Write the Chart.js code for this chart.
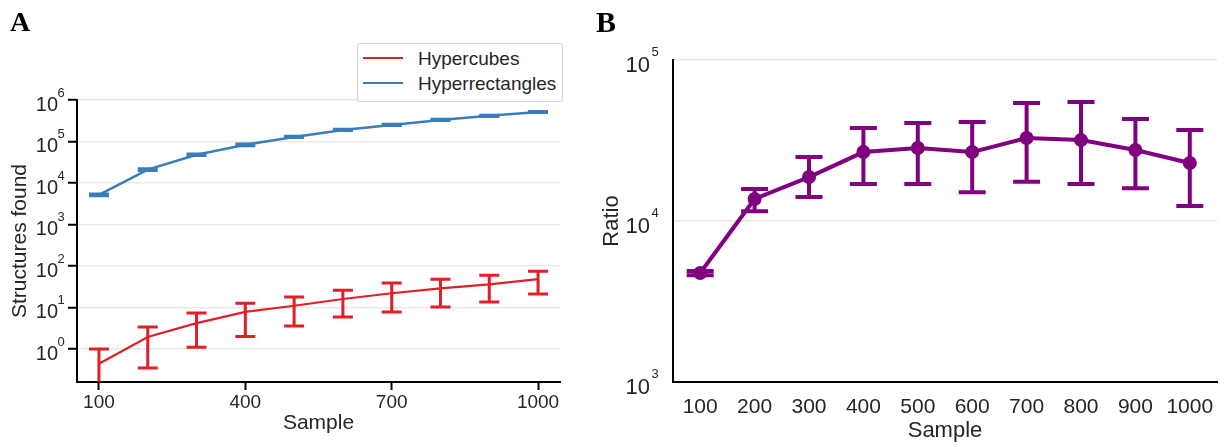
<!DOCTYPE html>
<html>
<head>
<meta charset="utf-8">
<title>Structures found and ratio by sample size</title>
<script src="https://cdn.jsdelivr.net/npm/chart.js@4.4.1/dist/chart.umd.min.js"></script>
<style>
  html, body { margin: 0; padding: 0; background: #fff; }
  #wrap { position: relative; width: 1224px; height: 447px; overflow: hidden; }
  canvas { position: absolute; top: 0; }
  #cA { left: 0; }
  #cB { left: 590px; }
  .panel { position: absolute; font-family: "Liberation Serif", "Times New Roman", serif;
           font-weight: bold; line-height: 1; color: #000; }
  #legA { position: absolute; left: 357px; top: 43px; width: 204px; height: 57px;
          border: 1px solid #d4d4d4; border-radius: 3px; background: #fff; }
  #legA .sw { position: absolute; left: 5px; width: 40px; height: 2.5px; }
  #legA .tx { position: absolute; left: 60px; height: 20px; line-height: 20px; font-size: 19px;
              font-family: "Liberation Sans", Arial, sans-serif; color: #262626; white-space: nowrap; }
</style>
</head>
<body>
<div id="wrap">
  <canvas id="cA" width="590" height="447"></canvas>
  <canvas id="cB" width="634" height="447"></canvas>
  <div class="panel" style="left:10px; top:8px; font-size:28px;">A</div>
  <div class="panel" style="left:596px; top:7px; font-size:30px;">B</div>
  <div id="legA"></div>
</div>
<script>
// ---- data -------------------------------------------------------------
const samples = [100, 200, 300, 400, 500, 600, 700, 800, 900, 1000];
const sampleLabels = ['100', '200', '300', '400', '500', '600', '700', '800', '900', '1000'];

// Panel A: structures found (mean with error range)
const cubesMean = [0.44, 1.95, 4.2, 7.8, 11, 16, 22, 29, 36, 48];
const cubesLow  = [0.1, 0.35, 1.1, 2.0, 3.6, 5.9, 7.8, 10.2, 13.5, 21];
const cubesHigh = [1.0, 3.4, 7.4, 12.7, 18, 26, 39, 48, 60, 75];

const rectMean = [5200, 21000, 48000, 83000, 129000, 190000, 251000, 331000, 415000, 515000];
const rectLow  = [4950, 20100, 46000, 79500, 124000, 183000, 242000, 320000, 402000, 499000];
const rectHigh = [5450, 21900, 50000, 86500, 134000, 197000, 260000, 342000, 428000, 531000];

// Panel B: ratio (mean with error range)
const ratioMean = [4750, 13700, 18750, 26800, 28400, 26800, 32800, 31800, 27600, 22900];
const ratioLow  = [4600, 11500, 14100, 17000, 17000, 15100, 17500, 17000, 16000, 12400];
const ratioHigh = [4900, 15800, 25000, 37800, 40600, 41200, 54100, 54800, 43000, 36700];

// Axis ticks
const ticksA_x = [100, 400, 700, 1000];
const ticksA_y = [1, 10, 100, 1000, 10000, 100000, 1000000];
const ticksB_y = [1000, 10000, 100000];

// ---- helpers ----------------------------------------------------------
const SANS = '"Liberation Sans", Arial, sans-serif';
const TEXT = '#262626';
const GRID = '#e9e9e9';

// Vertical error bars with caps, placed through the chart's own scales
const errorBars = {
  id: 'errorBars',
  afterDatasetsDraw(chart) {
    const { ctx, chartArea } = chart;
    const ys = chart.scales.y;
    ctx.save();
    ctx.beginPath();
    ctx.rect(chartArea.left, chartArea.top, chartArea.right - chartArea.left, chartArea.bottom - chartArea.top);
    ctx.clip();
    chart.data.datasets.forEach((ds, i) => {
      if (!ds.errLow) return;
      const meta = chart.getDatasetMeta(i);
      ctx.strokeStyle = ds.borderColor;
      ctx.lineWidth = ds.errWidth;
      ctx.lineCap = 'butt';
      meta.data.forEach((pt, j) => {
        const x = pt.x;
        const yl = ys.getPixelForValue(ds.errLow[j]);
        const yh = ys.getPixelForValue(ds.errHigh[j]);
        const h = ds.capWidth / 2;
        ctx.beginPath();
        ctx.moveTo(x, yl); ctx.lineTo(x, yh);
        ctx.moveTo(x - h, yl); ctx.lineTo(x + h, yl);
        ctx.moveTo(x - h, yh); ctx.lineTo(x + h, yh);
        ctx.stroke();
      });
    });
    ctx.restore();
  }
};

// Power-of-ten tick labels ("10" with a raised exponent)
function powLabels(cfg) {
  return {
    id: 'powLabels',
    afterDraw(chart) {
      const ys = chart.scales.y, ctx = chart.ctx;
      ctx.save();
      ctx.fillStyle = TEXT;
      ctx.textBaseline = 'alphabetic';
      ys.ticks.forEach(t => {
        const y = ys.getPixelForValue(t.value);
        const e = Math.round(Math.log10(t.value));
        ctx.font = cfg.size + 'px ' + SANS;
        ctx.textAlign = 'right';
        ctx.fillText('10', ys.right - cfg.gap, y + cfg.dy);
        ctx.font = cfg.expSize + 'px ' + SANS;
        ctx.textAlign = 'left';
        ctx.fillText(String(e), ys.right - cfg.expGap, y + cfg.expDy);
      });
      ctx.restore();
    }
  };
}

// ---- panel A ------------------------------------------------------------
const dsA = [
  {
    label: 'Hypercubes',
    data: samples.map((s, i) => ({ x: s, y: cubesMean[i] })),
    errLow: cubesLow, errHigh: cubesHigh,
    borderColor: '#e01f26', borderWidth: 2.2, pointRadius: 0,
    errWidth: 3, capWidth: 20
  },
  {
    label: 'Hyperrectangles',
    data: samples.map((s, i) => ({ x: s, y: rectMean[i] })),
    errLow: rectLow, errHigh: rectHigh,
    borderColor: '#3a7dbd', borderWidth: 2.5, pointRadius: 0,
    errWidth: 3, capWidth: 20
  }
];

new Chart(document.getElementById('cA'), {
  type: 'line',
  data: { datasets: dsA },
  options: {
    responsive: false, animation: false, events: [],
    layout: { padding: { left: 0, top: 100, right: 30, bottom: 0 } },
    plugins: { legend: { display: false }, tooltip: { enabled: false } },
    scales: {
      x: {
        type: 'linear', min: 55, max: 1045,
        afterBuildTicks: s => { s.ticks = ticksA_x.map(v => ({ value: v })); },
        afterFit: s => { s.height = 65; s.paddingLeft = 0; s.paddingRight = 0; },
        grid: { drawOnChartArea: false, drawTicks: true, tickLength: 8, tickColor: '#000', tickWidth: 2 },
        border: { color: '#000', width: 2 },
        ticks: { font: { family: SANS, size: 19 }, color: TEXT, padding: 1, maxRotation: 0,
                 callback: v => String(v) },
        title: { display: true, text: 'Sample', color: TEXT, font: { family: SANS, size: 21 },
                 padding: { top: 0, bottom: 11 } }
      },
      y: {
        type: 'logarithmic', min: 0.16, max: 1000000,
        afterBuildTicks: s => { s.ticks = ticksA_y.map(v => ({ value: v })); },
        afterFit: s => { s.width = 77; s.paddingTop = 0; s.paddingBottom = 0; },
        grid: { color: GRID, lineWidth: 1.5, drawTicks: true, tickLength: 9, tickColor: '#000', tickWidth: 2 },
        border: { color: '#000', width: 2 },
        ticks: { display: false },
        title: { display: true, text: 'Structures found', color: TEXT, font: { family: SANS, size: 21 },
                 padding: { top: 8, bottom: 0 } }
      }
    }
  },
  plugins: [errorBars, powLabels({ size: 20, expSize: 13, gap: 19, expGap: 19.5, dy: 11, expDy: -3 })]
});

// legend for panel A, built from the dataset labels and colours
const leg = document.getElementById('legA');
dsA.forEach((ds, i) => {
  const cy = 14 + i * 25;
  const sw = document.createElement('div');
  sw.className = 'sw';
  sw.style.top = (cy - 1.25) + 'px';
  sw.style.background = ds.borderColor;
  const tx = document.createElement('div');
  tx.className = 'tx';
  tx.style.top = (cy - 9) + 'px';
  tx.textContent = ds.label;
  leg.appendChild(sw);
  leg.appendChild(tx);
});

// ---- panel B ------------------------------------------------------------
new Chart(document.getElementById('cB'), {
  type: 'line',
  data: {
    labels: sampleLabels,
    datasets: [{
      label: 'Ratio',
      data: ratioMean,
      errLow: ratioLow, errHigh: ratioHigh,
      borderColor: '#800080', backgroundColor: '#800080',
      pointBackgroundColor: '#800080', pointBorderColor: '#800080',
      borderWidth: 4, pointRadius: 7, pointBorderWidth: 0,
      errWidth: 4, capWidth: 27
    }]
  },
  options: {
    responsive: false, animation: false, events: [],
    layout: { padding: { left: 0, top: 60, right: 2, bottom: 0 } },
    plugins: { legend: { display: false }, tooltip: { enabled: false } },
    scales: {
      x: {
        type: 'category', offset: true,
        afterFit: s => { s.height = 65; s.paddingLeft = 0; s.paddingRight = 0; },
        grid: { drawOnChartArea: false, drawTicks: false },
        border: { color: '#000', width: 2 },
        ticks: { font: { family: SANS, size: 21 }, color: TEXT, padding: 13, maxRotation: 0, autoSkip: false },
        title: { display: true, text: 'Sample', color: TEXT, font: { family: SANS, size: 22 },
                 padding: { top: 0, bottom: 3 } }
      },
      y: {
        type: 'logarithmic', min: 1000, max: 100000,
        afterBuildTicks: s => { s.ticks = ticksB_y.map(v => ({ value: v })); },
        afterFit: s => { s.width = 83; s.paddingTop = 0; s.paddingBottom = 0; },
        grid: { color: GRID, lineWidth: 1.5, drawTicks: false },
        border: { color: '#000', width: 2 },
        ticks: { display: false },
        title: { display: true, text: 'Ratio', color: TEXT, font: { family: SANS, size: 22 },
                 padding: { top: 9, bottom: 0 } }
      }
    }
  },
  plugins: [errorBars, powLabels({ size: 22, expSize: 13, gap: 23, expGap: 21.5, dy: 12, expDy: -4 })]
});
</script>
</body>
</html>
